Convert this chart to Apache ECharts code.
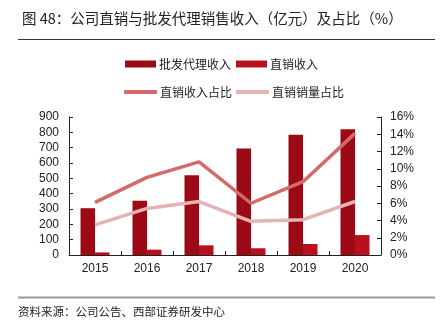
<!DOCTYPE html>
<html><head><meta charset="utf-8">
<script src="https://cdn.jsdelivr.net/npm/echarts@6/dist/echarts.min.js"></script>
<style>html,body{margin:0;padding:0;background:#fff;}#c{width:444px;height:331px;}</style>
</head><body><div id="c"></div>
<script>
const categories = ['2015','2016','2017','2018','2019','2020'];
const wholesaleRevenue = [305, 354, 520, 695, 785, 820];
const directRevenue = [17, 35, 63, 44, 72, 130];
const directRevenueShare = [6.1, 9.0, 10.8, 6.0, 8.5, 14.1];
const directVolumeShare = [3.5, 5.4, 6.2, 3.9, 4.1, 6.2];
const leftTicks = {min: 0, max: 900, interval: 100};
const rightTicks = {min: 0, max: 16, interval: 2};

const FONT = 'Liberation Sans, Arial, Noto Sans CJK SC, sans-serif';
const CJK = 'Noto Sans CJK SC, sans-serif';
const chart = echarts.init(document.getElementById('c'));
const axisStyle = {
  axisLine: {show: true, lineStyle: {color: '#222', width: 1}},
  axisTick: {show: true, inside: true, length: 4, lineStyle: {color: '#222'}},
  splitLine: {show: false},
  axisLabel: {color: '#222', fontSize: 12, fontFamily: FONT}
};
const legendText = {fontSize: 12, color: '#222', fontFamily: CJK, padding: [0,0,0,-2]};
chart.setOption({
  animation: false,
  title: {
    text: '图 48：公司直销与批发代理销售收入（亿元）及占比（%）',
    left: 17, top: 6,
    textStyle: {fontSize: 14.5, fontWeight: 'normal', color: '#222', fontFamily: CJK}
  },
  graphic: [
    {type: 'line', shape: {x1: 18, y1: 39.5, x2: 435, y2: 39.5}, style: {stroke: '#333', lineWidth: 1}},
    {type: 'line', shape: {x1: 18, y1: 297.5, x2: 435, y2: 297.5}, style: {stroke: '#999', lineWidth: 2}},
    {type: 'text', left: 18, top: 306, style: {text: '资料来源：公司公告、西部证券研发中心', fontSize: 11.5, fill: '#222', fontFamily: CJK}}
  ],
  legend: [
    {data: ['批发代理收入', '直销收入'], left: 125, top: 58, padding: 0, itemWidth: 31, itemHeight: 7, itemGap: 5,
     icon: 'rect', textStyle: legendText},
    {data: ['直销收入占比', '直销销量占比'], left: 124, top: 86, padding: 0, itemWidth: 33, itemHeight: 4, itemGap: 4,
     icon: 'roundRect', textStyle: legendText}
  ],
  grid: {left: 69, right: 63, top: 117, bottom: 76},
  xAxis: Object.assign({type: 'category', data: categories, boundaryGap: true}, axisStyle,
    {axisLabel: {color: '#222', fontSize: 12, fontFamily: FONT, margin: 8}}),
  yAxis: [
    Object.assign({type: 'value', position: 'left'}, leftTicks, axisStyle,
      {axisLabel: {color: '#222', fontSize: 12, fontFamily: FONT, margin: 10}}),
    Object.assign({type: 'value', position: 'right'}, rightTicks, axisStyle,
      {axisLabel: {color: '#222', fontSize: 12, fontFamily: FONT, margin: 9, formatter: '{value}%'}})
  ],
  series: [
    {name: '批发代理收入', type: 'bar', data: wholesaleRevenue, barWidth: 14.5, barGap: '0%',
     itemStyle: {color: '#9B0A15'}},
    {name: '直销收入', type: 'bar', data: directRevenue, barWidth: 14.5, barGap: '0%',
     itemStyle: {color: '#B8111D'}},
    {name: '直销收入占比', type: 'line', yAxisIndex: 1, data: directRevenueShare, symbol: 'none',
     lineStyle: {width: 3.5, color: '#D36A6B'}, itemStyle: {color: '#D36A6B'}},
    {name: '直销销量占比', type: 'line', yAxisIndex: 1, data: directVolumeShare, symbol: 'none',
     lineStyle: {width: 3.5, color: '#E5B3B4'}, itemStyle: {color: '#E5B3B4'}}
  ]
});
</script></body></html>
